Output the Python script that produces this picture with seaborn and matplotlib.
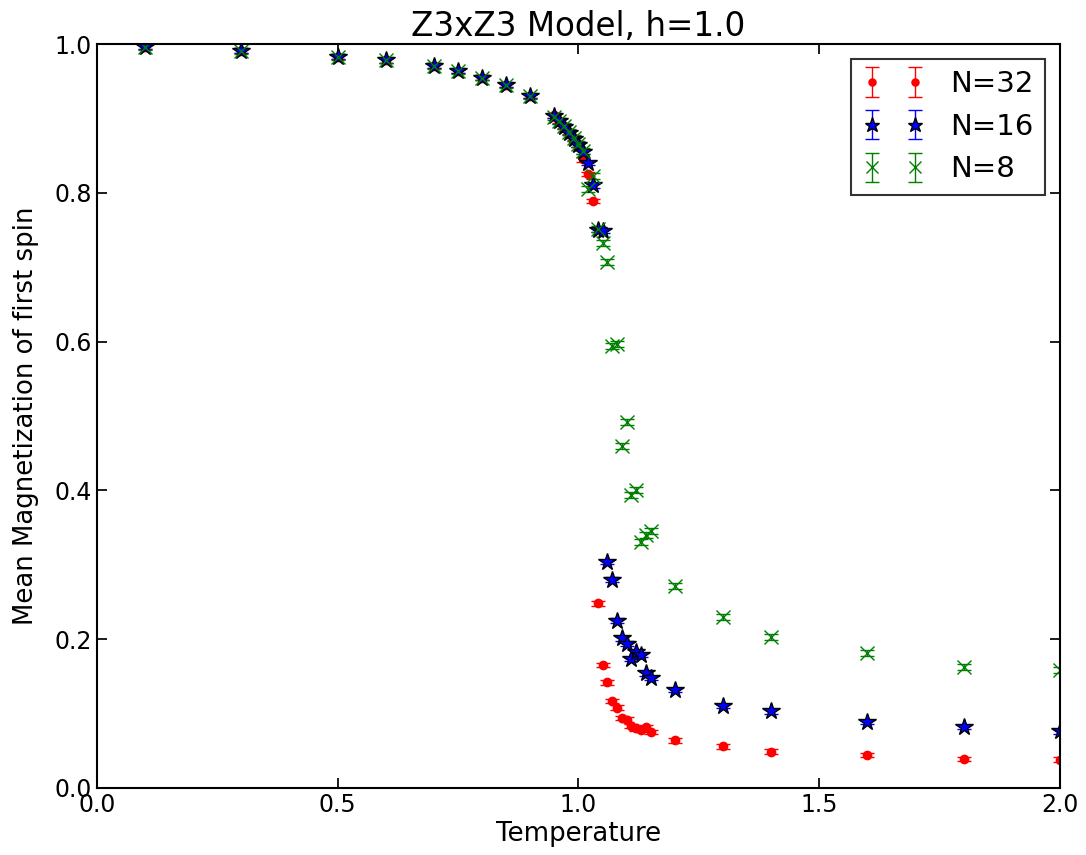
import matplotlib
matplotlib.use("Agg")
import matplotlib.pyplot as plt
import seaborn as sns

# temperatures shared by all three lattice sizes
TEMPS = [0.1, 0.3, 0.5, 0.6, 0.7, 0.75, 0.8, 0.85, 0.9,
         0.95, 0.96, 0.97, 0.98, 0.99, 1.0, 1.01, 1.02, 1.03, 1.04,
         1.05, 1.06, 1.07, 1.08, 1.09, 1.10, 1.11, 1.12, 1.13, 1.14, 1.15,
         1.2, 1.3, 1.4, 1.6, 1.8, 2.0]

# mean magnetization of first spin, one list per lattice size
MAG_32 = [0.996, 0.991, 0.983, 0.978, 0.971, 0.964, 0.955, 0.945, 0.930,
          0.904, 0.897, 0.890, 0.882, 0.874, 0.864, 0.845, 0.825, 0.789, 0.248,
          0.165, 0.142, 0.117, 0.108, 0.094, 0.092, 0.083, 0.080, 0.078, 0.082, 0.075,
          0.064, 0.056, 0.049, 0.044, 0.039, 0.038]
MAG_16 = [0.996, 0.991, 0.983, 0.978, 0.971, 0.964, 0.955, 0.945, 0.930,
          0.903, 0.896, 0.889, 0.881, 0.873, 0.864, 0.855, 0.840, 0.810, 0.750,
          0.749, 0.304, 0.280, 0.225, 0.201, 0.194, 0.173, 0.183, 0.179, 0.154, 0.148,
          0.132, 0.110, 0.103, 0.089, 0.082, 0.076]
MAG_8 = [0.996, 0.991, 0.983, 0.978, 0.971, 0.964, 0.955, 0.945, 0.930,
         0.902, 0.896, 0.890, 0.882, 0.874, 0.866, 0.856, 0.805, 0.823, 0.752,
         0.732, 0.707, 0.594, 0.597, 0.460, 0.492, 0.394, 0.401, 0.331, 0.340, 0.345,
         0.271, 0.230, 0.203, 0.181, 0.163, 0.159]

# statistical error (roughly constant, tiny)
ERR_32 = 0.003
ERR_16 = 0.003
ERR_8 = 0.004

LABELS = ["N=32", "N=16", "N=8"]

sns.set_theme(style="ticks", rc={
    "xtick.direction": "in", "ytick.direction": "in",
    "xtick.top": True, "ytick.right": True,
    "xtick.major.size": 7, "ytick.major.size": 7,
    "axes.linewidth": 1.5,
    "text.color": "black", "axes.labelcolor": "black",
    "xtick.color": "black", "ytick.color": "black",
    "axes.edgecolor": "black",
})
plt.rcParams["font.family"] = ["DejaVu Sans"]

fig = plt.figure(figsize=(10.86, 8.55), dpi=100)
ax = fig.add_axes([0.0893, 0.0784, 0.8867, 0.8701])

ax.errorbar(TEMPS, MAG_32, yerr=ERR_32, fmt="o", color="red", mec="red",
            ms=6, capsize=5, elinewidth=1, label=LABELS[0])
ax.errorbar(TEMPS, MAG_16, yerr=ERR_16, fmt="*", color="blue", mec="black",
            mew=1, ms=13, capsize=5, elinewidth=1, label=LABELS[1])
ax.errorbar(TEMPS, MAG_8, yerr=ERR_8, fmt="x", color="green", mec="green",
            mew=1, ms=10, capsize=5, elinewidth=1, label=LABELS[2])

ax.set_xlim(0, 2)
ax.set_ylim(0, 1)
ax.set_xticks([0.0, 0.5, 1.0, 1.5, 2.0])
ax.set_yticks([0.0, 0.2, 0.4, 0.6, 0.8, 1.0])
ax.tick_params(labelsize=17)

ax.set_title("Z3xZ3 Model, h=1.0", fontsize=23.5)
ax.set_xlabel("Temperature", fontsize=18.7, labelpad=3)
ax.set_ylabel("Mean Magnetization of first spin", fontsize=18.7, labelpad=11)

leg = ax.legend(loc="upper right", numpoints=2, fontsize=21, frameon=True,
                fancybox=False, borderaxespad=0.5, handlelength=2.1,
                handletextpad=0.9, markerscale=0.85)
leg.get_frame().set_edgecolor("black")
leg.get_frame().set_linewidth(1.5)

fig.savefig("out.png", dpi=100)
